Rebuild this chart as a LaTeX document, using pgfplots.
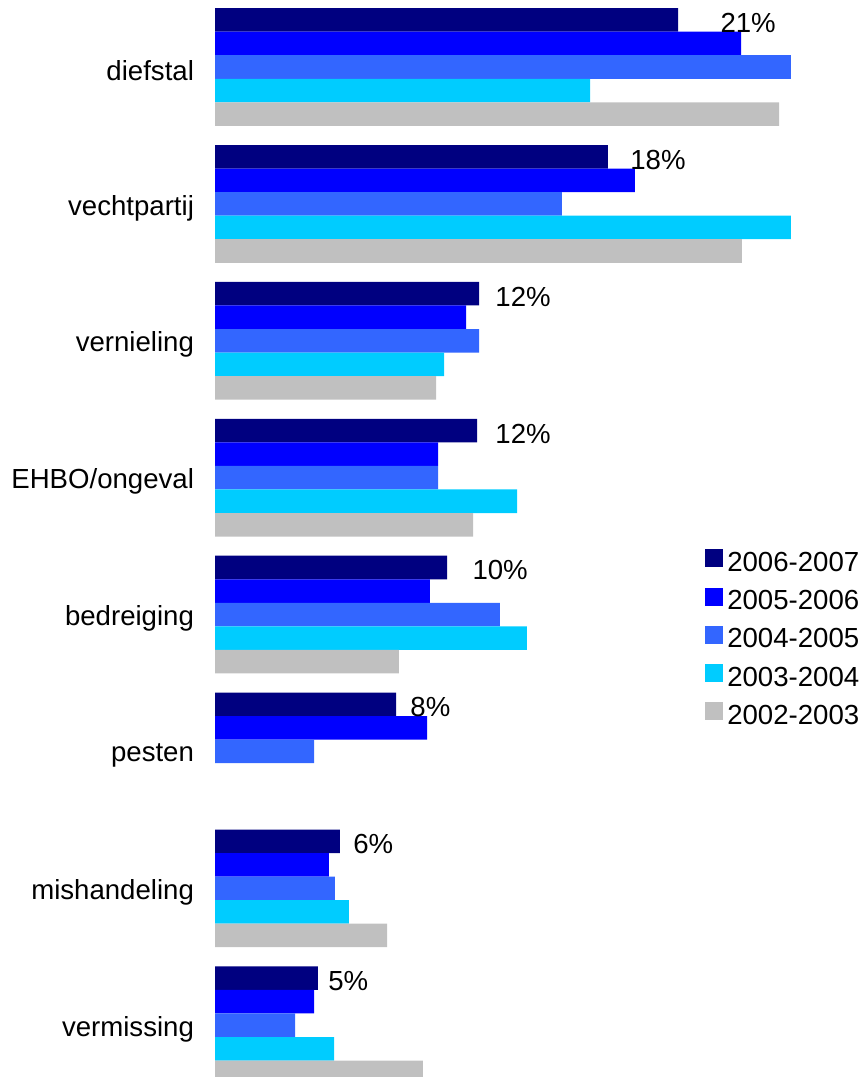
\documentclass[border=0pt]{standalone}
\usepackage{pgfplots}
\pgfplotsset{compat=1.18}
\usepackage{fontspec}
\setmainfont{Liberation Sans}
\definecolor{cA}{HTML}{000080}
\definecolor{cB}{HTML}{0000FF}
\definecolor{cC}{HTML}{3366FF}
\definecolor{cD}{HTML}{00CCFF}
\definecolor{cE}{HTML}{C0C0C0}
\begin{document}
\begin{tikzpicture}
\begin{axis}[
  scale only axis, width=324pt, height=538.5pt,
  xmin=0, xmax=29.4545, ymin=-0.4894, ymax=7.378, y dir=reverse,
  xbar, bar width=0.172,
  axis line style={draw=none},
  xtick=\empty,
  ytick={0,1,2,3,4,5,6,7},
  yticklabels={diefstal,vechtpartij,vernieling,EHBO/ongeval,bedreiging,pesten,mishandeling,vermissing},
  major tick length=0pt,
  yticklabel style={font=\fontsize{13.8pt}{16pt}\selectfont, xshift=-7pt, yshift=-2pt},
  legend style={draw=none, fill=none, at={(0.756,0.4914)}, anchor=north west,
     font=\fontsize{13.8pt}{16pt}\selectfont, row sep=4pt, inner sep=0pt,
     /tikz/every even column/.append style={column sep=0pt}},
  legend cell align=left,
  legend image code/.code={\fill[#1] (0pt,-2pt) rectangle (9pt,7pt);},
]
\addplot[fill=cA, draw=none, bar shift=-0.344,
  point meta=explicit symbolic,
  visualization depends on={value \thisrow{dx} \as \dx},
  nodes near coords={\pgfplotspointmeta\%},
  every node near coord/.append style={anchor=west, inner sep=0pt, xshift=\dx pt, yshift=-1.5pt, font=\fontsize{13.8pt}{16pt}\selectfont, text=black}]
  table[x=x, y=y, meta=lab] {
x y lab dx
21.05 0 21 21
17.86 1 18 11
12.00 2 12 8
11.91 3 12 9
10.55 4 10 12.5
8.23 5 8 7
5.68 6 6 6.5
4.68 7 5 5
};
\addlegendentry{2006-2007}
\addplot[fill=cB, draw=none, bar shift=-0.172] table[x=x, y=y] {
x y
23.91 0
19.09 1
11.41 2
10.14 3
9.77 4
9.64 5
5.18 6
4.50 7
};
\addlegendentry{2005-2006}
\addplot[fill=cC, draw=none, bar shift=0] table[x=x, y=y] {
x y
26.18 0
15.77 1
12.00 2
10.14 3
12.95 4
4.50 5
5.45 6
3.64 7
};
\addlegendentry{2004-2005}
\addplot[fill=cD, draw=none, bar shift=0.172] table[x=x, y=y] {
x y
17.05 0
26.18 1
10.41 2
13.73 3
14.18 4
6.09 6
5.41 7
};
\addlegendentry{2003-2004}
\addplot[fill=cE, draw=none, bar shift=0.344] table[x=x, y=y] {
x y
25.64 0
23.95 1
10.05 2
11.73 3
8.36 4
7.82 6
9.45 7
};
\addlegendentry{2002-2003}
\end{axis}
\path ([xshift=-107.5pt]current axis.south west);
\end{tikzpicture}
\end{document}
